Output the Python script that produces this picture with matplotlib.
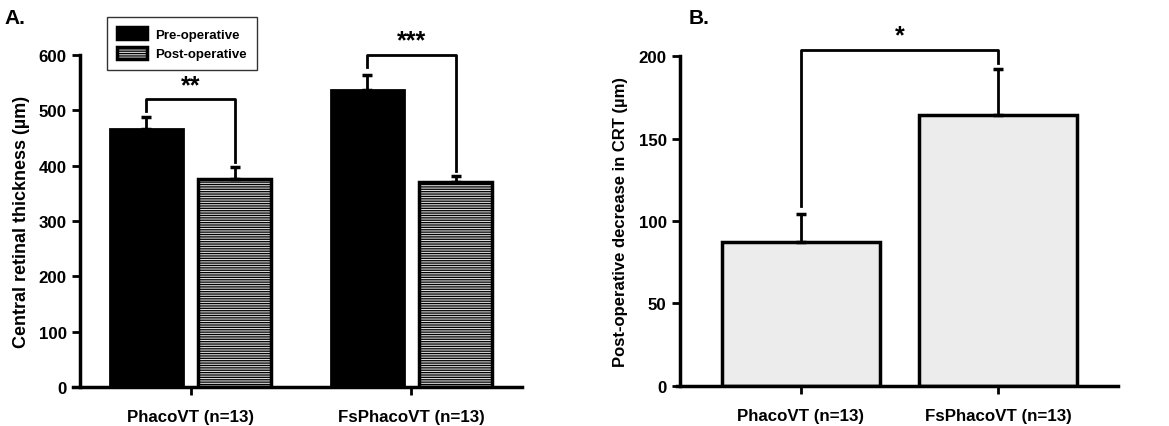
import matplotlib
matplotlib.use("Agg")
import matplotlib.pyplot as plt
import numpy as np
from matplotlib.patches import Patch

plt.rcParams['font.family'] = ['Liberation Sans', 'DejaVu Sans']
plt.rcParams['font.weight'] = 'bold'
plt.rcParams['hatch.linewidth'] = 0.9
plt.rcParams['hatch.color'] = '#9c9c9c'

categories = ["PhacoVT (n=13)", "FsPhacoVT (n=13)"]
pre_mean = [466, 537]
pre_se = [22, 27]
post_mean = [376, 371]
post_se = [22, 11]
decrease_mean = [87, 164]
decrease_se = [17, 28]

fig = plt.figure(figsize=(11.69, 4.27), dpi=100)

post_face = '#dadada'

# Panel A
axA = fig.add_axes([0.0624, 0.0913, 0.3841, 0.7776])
x = np.arange(len(categories))
w = 0.33
off = 0.2
ekw = dict(elinewidth=2, capsize=3.5, capthick=2.5, ecolor='black')
axA.bar(x - off, pre_mean, w, color='black', edgecolor='black', linewidth=2,
        yerr=[[0] * 2, pre_se], error_kw=ekw, zorder=2, label='Pre-operative')
axA.bar(x + off, post_mean, w, color=post_face, edgecolor='black', linewidth=2.5,
        hatch='-------', yerr=[[0] * 2, post_se], error_kw=ekw, zorder=2,
        label='Post-operative')
axA.set_xlim(-0.532, 1.5)
axA.spines['left'].set_position(('data', -0.5))
axA.set_ylim(0, 600)
axA.set_yticks(range(0, 601, 100))
axA.set_xticks(x)
axA.set_xticklabels(categories, fontsize=12.2, fontweight='bold')
axA.set_ylabel("Central retinal thickness (µm)", fontsize=13, fontweight='bold', labelpad=6)

# brackets A
brA = [(0, 520, 499, 406, "**"), (1, 600, 578, 390, "***")]
for i, top, l, r, s in brA:
    xl, xr = i - off, i + off
    axA.plot([xl, xl, xr, xr], [l, top, top, r], color='black', lw=2, clip_on=False, zorder=3)
    axA.text((xl + xr) / 2, top + 4, s, ha='center', va='bottom', fontsize=18, fontweight='bold')

# Panel B
axB = fig.add_axes([0.5791, 0.0937, 0.3773, 0.7728])
axB.bar(x, decrease_mean, 0.80, color='#ececec', edgecolor='black', linewidth=2.5,
        yerr=[[0] * 2, decrease_se], error_kw=ekw, zorder=2)
axB.set_xlim(-0.626, 1.606)
axB.spines['left'].set_position(('data', -0.611))
axB.set_ylim(0, 200)
axB.set_yticks(range(0, 201, 50))
axB.set_xticks(x)
axB.set_xticklabels(categories, fontsize=12.2, fontweight='bold')
axB.set_ylabel("Post-operative decrease in CRT (µm)", fontsize=12, fontweight='bold', labelpad=8)
axB.plot([0, 0, 1, 1], [109, 203.6, 203.6, 196], color='black', lw=2, clip_on=False, zorder=3)
axB.text(0.5, 205, "*", ha='center', va='bottom', fontsize=18, fontweight='bold')

for ax in (axA, axB):
    for sp in ('top', 'right'):
        ax.spines[sp].set_visible(False)
    for sp in ('left', 'bottom'):
        ax.spines[sp].set_linewidth(2.5)
    ax.tick_params(direction='out', width=2, length=6)
    ax.tick_params(axis='x', pad=10)
    for lab in ax.get_yticklabels():
        lab.set_fontweight('bold')
        lab.set_fontsize(12.2)

fig.text(0.004, 0.978, "A.", fontsize=15, fontweight='bold', va='top')
fig.text(0.589, 0.978, "B.", fontsize=15, fontweight='bold', va='top')

handles = [Patch(facecolor='black', edgecolor='black', linewidth=2.5, label='Pre-operative'),
           Patch(facecolor=post_face, edgecolor='black', linewidth=2.5, hatch='-------',
                 label='Post-operative')]
leg = fig.legend(handles=handles, loc='upper left', bbox_to_anchor=(0.0915, 0.958),
                 fontsize=9.5, frameon=True, fancybox=False, edgecolor='black',
                 handlelength=2.3, handleheight=1.1, handletextpad=0.6,
                 borderpad=0.75, labelspacing=0.45, borderaxespad=0)
leg.get_frame().set_linewidth(1.0)
for t in leg.get_texts():
    t.set_fontweight('bold')

fig.savefig("out.png", dpi=100)
